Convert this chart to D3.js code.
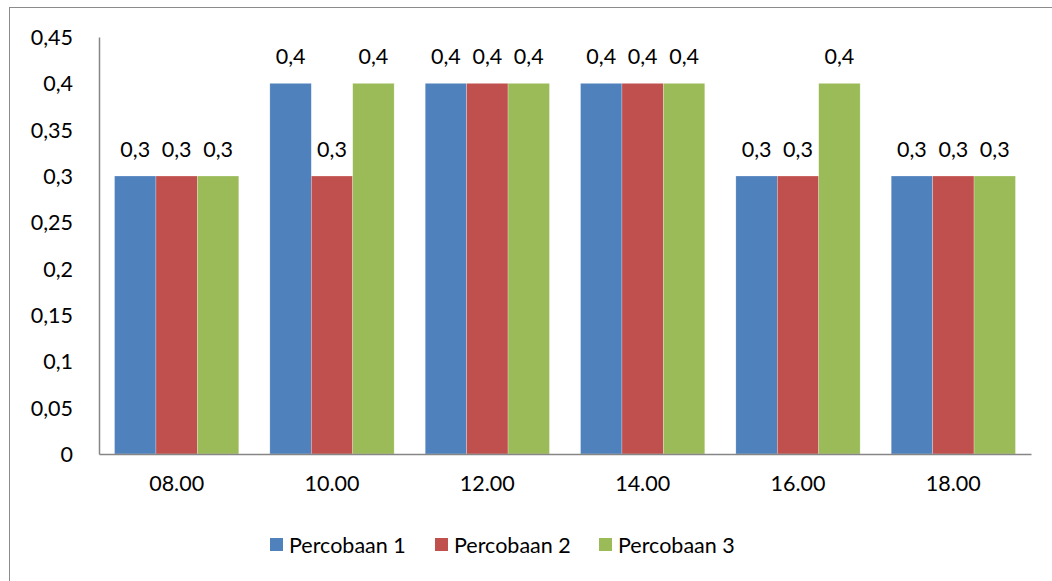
<!DOCTYPE html>
<html><head><meta charset="utf-8">
<script src="https://cdn.jsdelivr.net/npm/d3@7"></script>
<style>body{margin:0;background:#fff}svg{display:block}text{font-family:Lato,"Open Sans",sans-serif;fill:#000}</style>
</head><body><svg id="c" width="1052" height="581"></svg>
<script>
const categories = ["08.00","10.00","12.00","14.00","16.00","18.00"];
const seriesNames = ["Percobaan 1","Percobaan 2","Percobaan 3"];
const percobaan1 = [0.3,0.4,0.4,0.4,0.3,0.3];
const percobaan2 = [0.3,0.3,0.4,0.4,0.3,0.3];
const percobaan3 = [0.3,0.4,0.4,0.4,0.4,0.3];
const yTicks = [0,0.05,0.1,0.15,0.2,0.25,0.3,0.35,0.4,0.45];
const colors = ["#4F81BD","#C0504D","#9BBB59"];

const series = [percobaan1, percobaan2, percobaan3];
const svg = d3.select("#c");
const fmt = v => String(v).replace(".", ",");
const FS = 21.5;

// outer border
svg.append("rect").attr("x",9.5).attr("y",7.5).attr("width",1060).attr("height",600)
  .attr("fill","none").attr("stroke","#8c8c8c").attr("stroke-width",1);

const x0 = d3.scaleBand().domain(categories).range([99,1031]).paddingInner(0.2).paddingOuter(0.1);
const x1 = d3.scaleBand().domain(d3.range(3)).range([0,x0.bandwidth()]);
const y = d3.scaleLinear().domain([0,0.45]).range([454,37]);

const g = svg.append("g");
categories.forEach((c,i)=>{
  series.forEach((s,j)=>{
    const xx = x0(c)+x1(j);
    g.append("rect").attr("x",xx).attr("y",y(s[i])).attr("width",x1.bandwidth()).attr("height",y(0)-y(s[i]))
      .attr("fill",colors[j]).attr("stroke","#fff").attr("stroke-width",0.5).attr("stroke-opacity",0.5);
    g.append("text").attr("x",xx+x1.bandwidth()/2).attr("y",y(s[i])-19)
      .attr("text-anchor","middle").attr("font-size",FS).text(fmt(s[i]));
  });
});

// y axis
const ya = svg.append("g").attr("transform","translate(99,0)")
  .call(d3.axisLeft(y).tickValues(yTicks).tickSize(0).tickPadding(26).tickFormat(fmt));
ya.select(".domain").attr("stroke","#868686").attr("stroke-width",1.5);
ya.selectAll("text").attr("font-size",FS).attr("font-family","Lato").attr("dy","0.35em").attr("fill","#000");

// x axis
const xa = svg.append("g").attr("transform","translate(0,454)")
  .call(d3.axisBottom(x0).tickSize(0).tickPadding(22).tickSizeOuter(0));
xa.select(".domain").attr("stroke","#868686").attr("stroke-width",1.5);
xa.selectAll("text").attr("font-size",FS).attr("font-family","Lato").attr("fill","#000").attr("dy","0.71em");

// legend
const legX = [270,435,599];
seriesNames.forEach((n,j)=>{
  svg.append("rect").attr("x",legX[j]).attr("y",538).attr("width",13).attr("height",13).attr("fill",colors[j]);
  svg.append("text").attr("x",legX[j]+19).attr("y",553).attr("font-size",FS).text(n);
});
</script></body></html>
